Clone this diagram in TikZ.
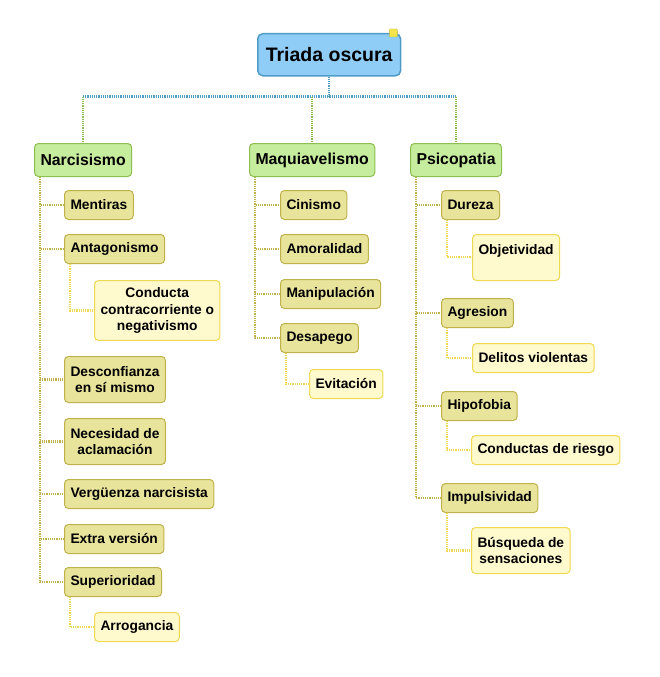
\documentclass[tikz,border=0pt]{standalone}
\usepackage{fontspec}
\setmainfont{Liberation Sans}
\usetikzlibrary{calc}
\definecolor{rootfill}{HTML}{8FCDF6}
\definecolor{rootdraw}{HTML}{4F9CC4}
\definecolor{mainfill}{HTML}{C6EC9E}
\definecolor{maindraw}{HTML}{8CBE50}
\definecolor{subfill}{HTML}{E9E49C}
\definecolor{subdraw}{HTML}{C0B24A}
\definecolor{leaffill}{HTML}{FFF9CE}
\definecolor{leafdraw}{HTML}{EFD852}
\definecolor{flagfill}{HTML}{F4E64A}
\tikzset{%
	root/.style     = {draw=rootdraw, fill=rootfill, line width=1.5pt, rounded corners=5pt, anchor=north west, minimum height=42pt, inner xsep=8pt, font=\fontsize{19.5}{23}\selectfont\bfseries},
	main/.style     = {draw=maindraw, fill=mainfill, line width=1pt, rounded corners=4pt, anchor=north west, minimum height=33pt, inner xsep=6pt, font=\fontsize{15.8}{19}\selectfont\bfseries},
	sub/.style      = {draw=subdraw, fill=subfill, line width=1pt, rounded corners=4pt, anchor=north west, minimum height=29pt, inner xsep=6pt, inner ysep=7pt, font=\fontsize{13.8}{16.5}\selectfont\bfseries},
	leaf/.style     = {sub, draw=leafdraw, fill=leaffill},
	two/.style      = {align=center, minimum height=46pt},
	three/.style    = {align=center, minimum height=59pt},
	flag/.style     = {draw=subdraw, fill=flagfill, rounded corners=1pt, minimum size=8pt, inner sep=0pt},
	rootline/.style = {draw=rootdraw, line width=2.4pt, dash pattern=on 1.2pt off 1pt},
	mainline/.style = {draw=maindraw, line width=2.4pt, dash pattern=on 1.2pt off 1pt},
	subline/.style  = {draw=subdraw, line width=2.4pt, dash pattern=on 1.2pt off 1pt},
	leafline/.style = {draw=leafdraw, line width=2.4pt, dash pattern=on 1.2pt off 1pt},
}
\begin{document}
\begin{tikzpicture}[x=1pt,y=-1pt]
		\useasboundingbox (0,0) rectangle (659,677);
		\node[root] (triada) at (257,33) {Triada oscura};
		\node[flag] (marca) at ($(triada.north east)+(-8,0)$) {};
		
		\node[main] (narc) at (34,143) {Narcisismo};
		\node[main] (maq) at (249,143) {Maquiavelismo};
		\node[main] (psic) at (410,143) {Psicopatia};
		
		\coordinate (bus) at ($(triada.south)+(0,20)$);
		\draw[rootline] (triada.south) -- (bus);
		\draw[rootline] (bus -| narc.north) -- (bus -| psic.north);
		\foreach \n in {narc,maq,psic}
			\draw[mainline] (bus -| \n.north) -- (\n.north);
		
		\node[sub] (ment) at (64,190) {Mentiras};
		\node[sub] (anta) at (64,234) {Antagonismo};
		\node[leaf, three] (cond) at (94,280) {Conducta\\contracorriente o\\negativismo};
		\node[sub, two] (desc) at (64,356) {Desconfianza\\en sí mismo};
		\node[sub, two] (nece) at (64,418) {Necesidad de\\aclamación};
		\node[sub] (verg) at (64,479) {Vergüenza narcisista};
		\node[sub] (extr) at (64,524) {Extra versión};
		\node[sub] (supe) at (64,567) {Superioridad};
		\node[leaf] (arro) at (94,612) {Arrogancia};
		
		\node[sub] (cini) at (280,190) {Cinismo};
		\node[sub] (amor) at (280,234) {Amoralidad};
		\node[sub] (mani) at (280,279) {Manipulación};
		\node[sub] (desa) at (280,323) {Desapego};
		\node[leaf] (evit) at (309,369) {Evitación};
		
		\node[sub] (dure) at (441,190) {Dureza};
		\node[leaf, text height=13pt, text depth=19pt] (obje) at (472,234) {Objetividad};
		\node[sub] (agre) at (441,298) {Agresion};
		\node[leaf] (deli) at (472,343) {Delitos violentas};
		\node[sub] (hipo) at (441,391) {Hipofobia};
		\node[leaf] (ries) at (471,435) {Conductas de riesgo};
		\node[sub] (impu) at (441,483) {Impulsividad};
		\node[leaf, two] (busq) at (471,527) {Búsqueda de\\sensaciones};
		
		\foreach \c in {ment,anta,desc,nece,verg,extr,supe}
			\draw[subline] ($(narc.south west)+(6,0)$) |- (\c.west);
		\foreach \c in {cini,amor,mani,desa}
			\draw[subline] ($(maq.south west)+(6,0)$) |- (\c.west);
		\foreach \c in {dure,agre,hipo,impu}
			\draw[subline] ($(psic.south west)+(6,0)$) |- (\c.west);
		
		\foreach \p/\c in {anta/cond,supe/arro,desa/evit,agre/deli,hipo/ries,impu/busq}
			\draw[leafline] ($(\p.south west)+(6,0)$) |- (\c.west);
		\draw[leafline] ($(dure.south west)+(6,0)$) |- ($(obje.north west)+(0,23)$);
\end{tikzpicture}
\end{document}
